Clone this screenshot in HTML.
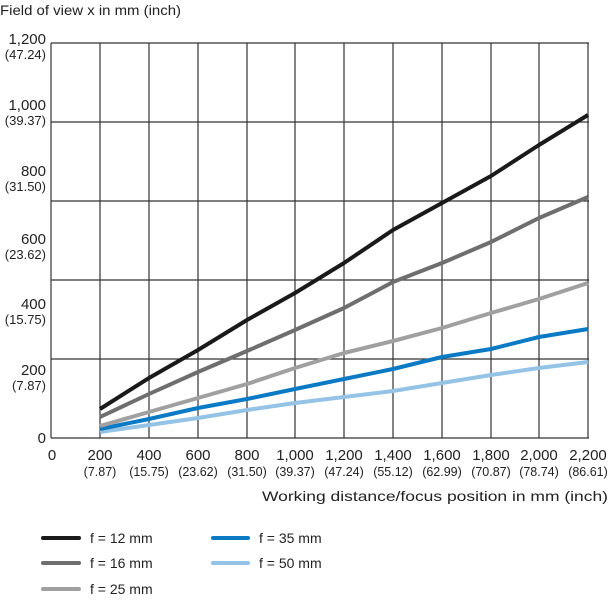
<!DOCTYPE html>
<html><head><style>body{margin:0;background:#fff}svg{display:block}</style></head><body>
<svg width="610" height="600" xmlns="http://www.w3.org/2000/svg" font-family="'Liberation Sans',sans-serif" fill="#222">
<g stroke="#333" stroke-width="1.2">
<line x1="51" y1="43" x2="589" y2="43"/>
<line x1="51" y1="122" x2="589" y2="122"/>
<line x1="51" y1="201" x2="589" y2="201"/>
<line x1="51" y1="280" x2="589" y2="280"/>
<line x1="51" y1="359" x2="589" y2="359"/>
<line x1="51" y1="438" x2="589" y2="438"/>
<line x1="51" y1="43" x2="51" y2="438"/>
<line x1="100" y1="43" x2="100" y2="438"/><line x1="149" y1="43" x2="149" y2="438"/>
<line x1="198" y1="43" x2="198" y2="438"/><line x1="247" y1="43" x2="247" y2="438"/>
<line x1="295" y1="43" x2="295" y2="438"/><line x1="344" y1="43" x2="344" y2="438"/>
<line x1="393" y1="43" x2="393" y2="438"/><line x1="442" y1="43" x2="442" y2="438"/>
<line x1="491" y1="43" x2="491" y2="438"/><line x1="539" y1="43" x2="539" y2="438"/>
<line x1="588" y1="43" x2="588" y2="438"/>
</g>
<g fill="none" stroke-width="4" stroke-linejoin="round">
<polyline stroke="#94c3e6" points="100,432 149,425 198,418 247,410 295,403 344,397 393,391 442,383 491,375 539,368 588,362"/>
<polyline stroke="#0a7ac4" points="100,429 149,419 198,408 247,399 295,389 344,379 393,369 442,357 491,349 539,337 588,329"/>
<polyline stroke="#a0a0a0" points="100,426 149,412 198,398 247,384 295,368 344,353 393,341 442,328 491,313 539,299 588,283"/>
<polyline stroke="#6e6e6e" points="100,417 149,394 198,372 247,351 295,330 344,308 393,282 442,263 491,242 539,218 588,197"/>
<polyline stroke="#1a1a1a" points="100,409 149,378 198,350 247,320 295,293 344,263 393,230 442,203 491,176 539,145 588,115"/>
</g>
<text x="0" y="15" font-size="14" textLength="181" lengthAdjust="spacingAndGlyphs">Field of view x in mm (inch)</text>
<g text-anchor="end" font-size="15">
<text x="46" y="44">1,200</text><text x="46" y="110">1,000</text><text x="46" y="176">800</text>
<text x="46" y="244">600</text><text x="46" y="309">400</text><text x="46" y="375">200</text><text x="46" y="443">0</text>
</g>
<g text-anchor="end" font-size="13">
<text x="46" y="59">(47.24)</text><text x="46" y="125">(39.37)</text><text x="46" y="191">(31.50)</text>
<text x="46" y="259">(23.62)</text><text x="46" y="324">(15.75)</text><text x="46" y="390">(7.87)</text>
</g>
<g text-anchor="middle" font-size="15">
<text x="52" y="460">0</text><text x="100" y="460">200</text><text x="149" y="460">400</text><text x="198" y="460">600</text>
<text x="247" y="460">800</text><text x="295" y="460">1,000</text><text x="344" y="460">1,200</text><text x="393" y="460">1,400</text>
<text x="442" y="460">1,600</text><text x="491" y="460">1,800</text><text x="539" y="460">2,000</text><text x="588" y="460">2,200</text>
</g>
<g text-anchor="middle" font-size="12.5">
<text x="100" y="476">(7.87)</text><text x="149" y="476">(15.75)</text><text x="198" y="476">(23.62)</text>
<text x="247" y="476">(31.50)</text><text x="295" y="476">(39.37)</text><text x="344" y="476">(47.24)</text><text x="393" y="476">(55.12)</text>
<text x="442" y="476">(62.99)</text><text x="491" y="476">(70.87)</text><text x="539" y="476">(78.74)</text><text x="588" y="476">(86.61)</text>
</g>
<text x="262" y="501" font-size="14" textLength="346" lengthAdjust="spacingAndGlyphs">Working distance/focus position in mm (inch)</text>
<g stroke-width="4" stroke-linecap="round">
<line x1="43" y1="538" x2="79" y2="538" stroke="#1a1a1a"/>
<line x1="43" y1="563" x2="79" y2="563" stroke="#6e6e6e"/>
<line x1="43" y1="589" x2="79" y2="589" stroke="#a0a0a0"/>
<line x1="213" y1="538" x2="248" y2="538" stroke="#0a7ac4"/>
<line x1="213" y1="563" x2="248" y2="563" stroke="#94c3e6"/>
</g>
<g font-size="14">
<text x="90" y="543">f = 12 mm</text><text x="90" y="568">f = 16 mm</text><text x="90" y="594">f = 25 mm</text>
<text x="259" y="543">f = 35 mm</text><text x="259" y="568">f = 50 mm</text>
</g>
</svg>
</body></html>
